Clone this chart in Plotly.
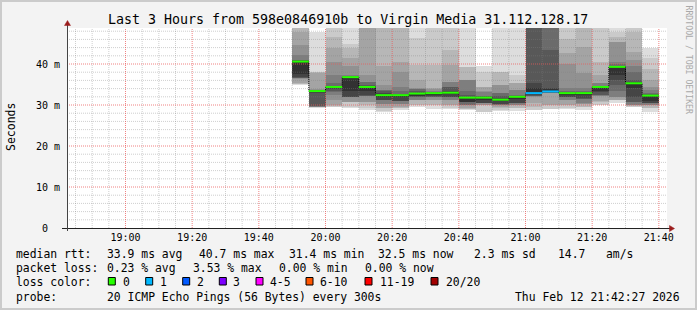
import plotly.graph_objects as go
import pandas as pd

# ---------------- data ----------------
day = "2026-02-12"
view_start = "18:42:27"
view_end = "21:42:27"
step_s = 300
pings_per_step = 20

interval_start = ["19:50", "19:55", "20:00", "20:05", "20:10", "20:15", "20:20", "20:25",
                  "20:30", "20:35", "20:40", "20:45", "20:50", "20:55", "21:00", "21:05",
                  "21:10", "21:15", "21:20", "21:25", "21:30", "21:35"]

median_ms = [40.6, 33.4, 34.4, 36.8, 34.4, 32.4, 32.4, 32.8, 32.9, 33.0, 31.8,
             31.8, 31.3, 32.0, 32.9, 33.3, 32.9, 32.9, 34.4, 39.3, 35.3, 32.3]

lost_pings = [0, 0, 0, 0, 0, 0, 0, 0, 0, 0, 0, 0, 0, 0, 1, 1, 0, 0, 0, 0, 0, 0]

# 20 sorted ping round-trip times (ms) per 5-minute step, None = lost ping
pings_ms = [
    [35.0, 35.1, 35.2, 35.3, 36.3, 36.5, 36.6, 36.7, 36.9, 37.6, 40.6, 40.8, 40.9, 41.0, 42.2, 44.6, 47.9, 48.9, 50.0, 52.0],
    [29.3, 29.4, 29.45, 29.5, 29.55, 29.6, 29.65, 29.7, 33.0, 33.3, 33.4, 33.5, 33.55, 33.6, 33.7, 33.8, 37.9, 38.0, 38.1, 47.9],
    [29.4, 29.6, 29.8, 30.0, 31.2, 32.4, 33.25, 33.3, 34.1, 34.2, 34.4, 34.5, 34.6, 35.3, 37.3, 40.6, 43.8, 46.7, 48.7, 50.5],
    [29.2, 29.4, 30.7, 30.75, 30.8, 31.85, 31.9, 31.95, 32.0, 33.3, 36.8, 36.9, 36.95, 37.0, 37.3, 39.4, 41.4, 43.8, 45.0, 50.5],
    [28.8, 29.3, 30.0, 30.7, 30.8, 32.1, 32.2, 32.3, 32.4, 33.5, 34.4, 34.6, 35.0, 35.6, 35.7, 37.3, 49.2, 50.0, 51.0, 52.0],
    [28.4, 28.5, 29.15, 29.2, 30.15, 30.2, 31.1, 31.15, 31.2, 32.0, 32.4, 32.9, 33.5, 33.6, 33.7, 34.9, 39.4, 50.0, 50.5, 51.0],
    [28.8, 29.3, 29.35, 29.4, 30.15, 30.2, 30.9, 30.95, 31.0, 32.0, 32.4, 32.5, 32.7, 33.3, 34.5, 38.1, 40.6, 50.0, 50.5, 51.0],
    [29.6, 29.95, 30.0, 31.1, 31.15, 31.2, 32.0, 32.05, 32.1, 32.2, 32.8, 32.9, 33.3, 33.9, 34.0, 34.1, 36.1, 39.8, 46.3, 50.0],
    [29.0, 29.95, 30.0, 31.15, 31.2, 31.95, 32.0, 32.05, 32.1, 32.6, 32.9, 33.0, 33.1, 33.2, 33.4, 34.0, 34.1, 39.8, 50.0, 50.5],
    [29.0, 29.2, 29.95, 30.0, 31.15, 31.2, 31.9, 31.95, 32.0, 32.8, 33.0, 33.4, 34.4, 34.5, 35.6, 35.7, 39.8, 43.4, 50.0, 50.5],
    [28.8, 29.0, 29.1, 29.2, 29.9, 29.95, 30.0, 30.7, 30.75, 30.8, 31.8, 32.0, 32.4, 33.5, 36.0, 36.05, 36.1, 39.2, 39.3, 50.0],
    [28.2, 28.3, 29.9, 29.95, 30.0, 30.45, 30.5, 30.55, 30.6, 31.4, 31.8, 31.9, 32.1, 32.3, 33.2, 33.3, 34.4, 34.5, 38.1, 39.5],
    [28.6, 28.8, 29.35, 29.4, 30.0, 30.05, 30.1, 30.15, 30.2, 31.0, 31.3, 31.6, 32.2, 32.95, 33.0, 34.85, 34.9, 38.05, 38.1, 50.0],
    [28.5, 29.15, 29.2, 29.9, 29.95, 30.0, 30.5, 30.55, 30.6, 31.5, 32.0, 32.1, 32.2, 32.4, 33.65, 33.7, 35.25, 35.3, 37.3, 50.0],
    [28.6, 28.8, 29.5, 30.4, 32.0, 32.1, 32.2, 32.3, 32.5, 32.9, 34.1, 35.3, 55.0, 60.0, 65.0, 70.0, 80.0, 90.0, 100.0, None],
    [28.8, 29.0, 29.95, 30.0, 32.85, 32.9, 32.95, 33.0, 33.1, 33.3, 33.8, 34.2, 43.4, 52.0, 56.0, 62.0, 70.0, 80.0, 95.0, None],
    [29.0, 29.2, 29.95, 30.0, 31.15, 31.2, 31.9, 31.95, 32.0, 32.6, 32.9, 33.0, 33.1, 33.3, 34.1, 40.0, 42.6, 46.0, 49.0, 50.0],
    [28.8, 29.55, 29.6, 30.3, 30.35, 30.4, 31.5, 31.55, 31.6, 32.6, 32.9, 33.0, 33.1, 33.3, 34.1, 37.7, 44.2, 50.0, 50.5, 51.0],
    [29.9, 30.0, 30.85, 30.9, 32.25, 32.3, 32.35, 32.4, 33.25, 33.3, 34.4, 34.5, 34.55, 34.6, 35.25, 35.3, 37.3, 40.6, 48.7, 50.0],
    [30.6, 31.1, 31.15, 31.2, 31.95, 32.0, 33.3, 34.9, 36.1, 37.3, 39.3, 39.4, 39.6, 40.0, 40.6, 45.35, 45.4, 46.7, 47.9, 50.0],
    [29.5, 29.6, 29.8, 29.9, 29.95, 30.0, 30.75, 30.8, 32.0, 34.1, 35.3, 35.5, 36.1, 38.1, 39.4, 41.0, 43.0, 47.9, 50.0, 50.5],
    [28.3, 29.15, 29.2, 29.9, 29.95, 30.0, 30.5, 30.55, 30.6, 31.0, 32.3, 32.4, 32.6, 33.0, 33.7, 34.5, 36.1, 38.9, 41.4, 44.0],
]

loss_labels = ["0", "1", "2", "3", "4-5", "6-10", "11-19", "20/20"]
loss_upper = [0, 1, 2, 3, 5, 10, 19, 20]
loss_colors = ["#26ff00", "#00b8ff", "#0059ff", "#7e00ff", "#ff00ff", "#ff5500", "#ff0000", "#a10000"]

x_tick_times = ["19:00", "19:20", "19:40", "20:00", "20:20", "20:40", "21:00", "21:20", "21:40"]
y_tick_vals = [0, 10, 20, 30, 40]
y_tick_labels = ["0\u00a0\u00a0", "10 m", "20 m", "30 m", "40 m"]
y_max = 48.78

title_text = "Last 3 Hours from 598e0846910b to Virgin Media 31.112.128.17"
y_title = "Seconds"
watermark = "RRDTOOL / TOBI OETIKER"
rtt_items = ["median rtt:", "33.9 ms avg", "40.7 ms max", "31.4 ms min", "32.5 ms now", "2.3 ms sd", "14.7   am/s"]
loss_items = ["packet loss:", "0.23 % avg", "3.53 % max", "0.00 % min", "0.00 % now"]
color_caption = "loss color:"
probe_items = ["probe:", "20 ICMP Echo Pings (56 Bytes) every 300s"]
stamp = "Thu Feb 12 21:42:27 2026"

# ---------------- layout constants ----------------
W, H = 697, 310
L, T, PW, PH = 67, 28, 600, 200
MONO = "DejaVu Sans Mono"


def px_x(px):
    return (px - L) / PW


def px_y(py):
    return (T + PH - py) / PH


def nb(s):
    return s.replace(" ", "\u00a0")


t0 = pd.Timestamp(f"{day} {view_start}")
t1 = pd.Timestamp(f"{day} {view_end}")
starts = [pd.Timestamp(f"{day} {s}") for s in interval_start]
step = pd.Timedelta(seconds=step_s)
centers = [s + step / 2 for s in starts]
ends = [s + step for s in starts]

fig = go.Figure()

# smoke: bands between ping i and ping n+1-i, lighter outside, darker inside
half = pings_per_step / 2
for ibot in range(1, int(half) + 1):
    itop = pings_per_step + 1 - ibot
    g = int(190 / half * (half - ibot)) + 50
    col = "#%02x%02x%02x" % (g, g, g)
    xs, bases, hs = [], [], []
    for c, row in zip(centers, pings_ms):
        lo, hi = row[ibot - 1], row[itop - 1]
        if lo is None or hi is None:
            continue
        xs.append(c)
        bases.append(lo)
        hs.append(hi - lo)
    fig.add_trace(go.Bar(x=xs, y=hs, base=bases, width=step_s * 1000,
                         marker=dict(color=col, line=dict(width=0)), opacity=1,
                         hoverinfo="skip", showlegend=False))

# grid drawn above the smoke (as rrdtool does)
minor_v, major_v = [], []
for t in pd.date_range(f"{day} 18:45", f"{day} 21:40", freq="5min"):
    (major_v if t.minute % 20 == 0 else minor_v).append(t)
minor_h = [v for v in range(2, int(y_max) + 1, 2) if v % 10 != 0]
major_h = [v for v in y_tick_vals if v > 0]


def grid_trace(vt, hv, color):
    xs, ys = [], []
    for t in vt:
        xs += [t, t, None]
        ys += [0, y_max, None]
    for v in hv:
        xs += [t0, t1, None]
        ys += [v, v, None]
    return go.Scatter(x=xs, y=ys, mode="lines", hoverinfo="skip", showlegend=False,
                      line=dict(color=color, width=1, dash="1px,1px"))


fig.add_trace(grid_trace(minor_v, minor_h, "rgba(128,128,128,0.38)"))
fig.add_trace(grid_trace(major_v, major_h, "rgba(235,90,90,0.75)"))

# dotted step connecting medians
sx, sy = [], []
for s, e, m in zip(starts, ends, median_ms):
    sx += [s, e]
    sy += [m, m]
fig.add_trace(go.Scatter(x=sx, y=sy, mode="lines", hoverinfo="skip", showlegend=False,
                         line=dict(color="#000000", width=1, dash="1px,1px")))

# median lines coloured by loss
for lab, up, col in zip(loss_labels, loss_upper, loss_colors):
    mx, my = [], []
    for s, e, m, lost in zip(starts, ends, median_ms, lost_pings):
        idx = next(j for j, u in enumerate(loss_upper) if lost <= u)
        if loss_labels[idx] != lab:
            continue
        mx += [s, e, None]
        my += [m, m, None]
    if mx:
        fig.add_trace(go.Scatter(x=mx, y=my, mode="lines", hoverinfo="skip", showlegend=False,
                                 line=dict(color=col, width=2)))

x_tick_vals = [pd.Timestamp(f"{day} {t}") for t in x_tick_times]

fig.update_layout(
    width=W, height=H,
    margin=dict(l=L, r=W - L - PW, t=T, b=H - T - PH, pad=0),
    paper_bgcolor="#f3f3f3", plot_bgcolor="#ffffff",
    barmode="overlay", bargap=0, showlegend=False,
    font=dict(family=MONO, size=10, color="#000000"),
    xaxis=dict(type="date", range=[t0, t1], tickvals=x_tick_vals, ticktext=x_tick_times,
               showgrid=False, zeroline=False, showline=False, ticks="",
               tickfont=dict(family=MONO, size=10, color="#000"), ticklabelstandoff=2,
               fixedrange=True),
    yaxis=dict(range=[0, y_max], tickvals=y_tick_vals, ticktext=y_tick_labels,
               showgrid=False, zeroline=False, showline=False, ticks="",
               tickfont=dict(family=MONO, size=10, color="#000"), ticklabelstandoff=6,
               fixedrange=True),
)

shapes = []
# frame
shapes.append(dict(type="rect", xref="paper", yref="paper", x0=px_x(0), x1=px_x(W), y0=px_y(H), y1=px_y(0),
                   line=dict(color="#cbcbcb", width=4), fillcolor="rgba(0,0,0,0)", layer="above"))
# axes
shapes.append(dict(type="line", xref="paper", yref="paper", x0=px_x(62), x1=px_x(672),
                   y0=px_y(228.5), y1=px_y(228.5), line=dict(color="#222222", width=1), layer="above"))
shapes.append(dict(type="line", xref="paper", yref="paper", x0=px_x(67.5), x1=px_x(67.5),
                   y0=px_y(231), y1=px_y(23), line=dict(color="#444444", width=1), layer="above"))
# arrows
shapes.append(dict(type="path", xref="paper", yref="paper",
                   path="M %f,%f L %f,%f L %f,%f Z" % (px_x(64.5), px_y(25.5), px_x(70.5), px_y(25.5), px_x(67.5), px_y(20.5)),
                   fillcolor="#9b1c1c", line=dict(color="#9b1c1c", width=0.5), layer="above"))
shapes.append(dict(type="path", xref="paper", yref="paper",
                   path="M %f,%f L %f,%f L %f,%f Z" % (px_x(669.5), px_y(225.5), px_x(669.5), px_y(231.5), px_x(674.5), px_y(228.5)),
                   fillcolor="#9b1c1c", line=dict(color="#9b1c1c", width=0.5), layer="above"))

ann = []
ann.append(dict(text=nb(title_text), x=px_x(348), y=px_y(19), xref="paper", yref="paper",
                xanchor="center", yanchor="middle", showarrow=False,
                font=dict(family=MONO, size=13.3, color="#000")))
ann.append(dict(text=y_title, x=px_x(10.5), y=px_y(127.5), xref="paper", yref="paper",
                xanchor="center", yanchor="middle", showarrow=False, textangle=-90,
                font=dict(family=MONO, size=11.5, color="#000")))
ann.append(dict(text=nb(watermark), x=px_x(688.5), y=px_y(60), xref="paper", yref="paper",
                xanchor="center", yanchor="middle", showarrow=False, textangle=90,
                font=dict(family=MONO, size=8.2, color="#a9a9a9")))

LEG = 11.4


def leg(text, px, py, anchor="left"):
    ann.append(dict(text=nb(text), x=px_x(px), y=px_y(py), xref="paper", yref="paper",
                    xanchor=anchor, yanchor="middle", showarrow=False, borderpad=0, borderwidth=0,
                    font=dict(family=MONO, size=LEG, color="#000")))


rtt_x = [16, 107.3, 199.3, 288.5, 377.7, 474, 558.3]
for t, x in zip(rtt_items, rtt_x):
    leg(t, x, 253.5)
loss_x = [16, 107.3, 193.3, 279.3, 365]
for t, x in zip(loss_items, loss_x):
    leg(t, x, 268.3)
leg(color_caption, 16, 282)
chip_x = [108.3, 145.7, 182.7, 219.3, 256, 306, 365, 431]
lab_x = [123.3, 160, 196.7, 233.3, 270, 320, 380, 446]
for lab, col, cx, lx in zip(loss_labels, loss_colors, chip_x, lab_x):
    shapes.append(dict(type="rect", xref="paper", yref="paper", x0=px_x(cx), x1=px_x(cx + 7),
                       y0=px_y(285), y1=px_y(277.5), fillcolor=col,
                       line=dict(color="#000000", width=1), layer="above"))
    leg(lab, lx, 282)
leg(probe_items[0], 16, 296.8)
leg(probe_items[1], 107.3, 296.8)
leg(stamp, 680, 296.8, anchor="right")

fig.update_layout(shapes=shapes, annotations=ann)
fig.write_html("out.html")
